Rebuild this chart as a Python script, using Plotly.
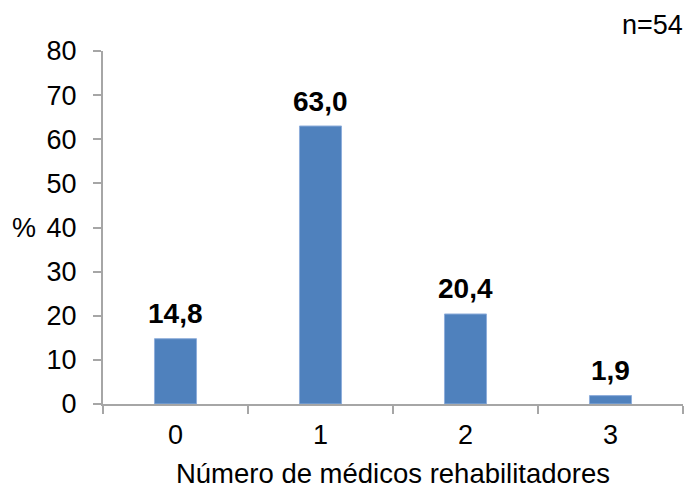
import plotly.graph_objects as go

categories = ["0", "1", "2", "3"]
values = [14.8, 63.0, 20.4, 1.9]
labels = ["14,8", "63,0", "20,4", "1,9"]
y_ticks = [0, 10, 20, 30, 40, 50, 60, 70, 80]

FONT = "Liberation Sans, Arial, sans-serif"
AXIS = "#A6A6A6"

fig = go.Figure(go.Bar(
    x=categories, y=values,
    marker=dict(color="#4F81BD", line=dict(color="#8EAEDB", width=1)),
    cliponaxis=False,
))

annotations = [
    dict(x=c, y=v, text=t, xref="x", yref="y", showarrow=False, yanchor="middle",
         yshift=25, font=dict(family=FONT, size=28, color="black", weight="bold"))
    for c, v, t in zip(categories, values, labels)
]
annotations += [
    dict(text="n=54", xref="paper", yref="paper", x=1.0034, y=1.0737, xanchor="right", yanchor="middle",
         showarrow=False, font=dict(size=27, family=FONT)),
    dict(text="%", xref="paper", yref="paper", x=-0.136, y=0.4986, xanchor="center", yanchor="middle",
         showarrow=False, font=dict(size=27, family=FONT)),
]

fig.update_layout(
    width=690, height=489,
    margin=dict(l=103, r=7, t=51, b=85, pad=0),
    paper_bgcolor="white", plot_bgcolor="white",
    bargap=0.71,
    showlegend=False,
    font=dict(family=FONT, color="black"),
    xaxis=dict(
        type="category", showline=True, linecolor=AXIS, linewidth=2,
        ticks="outside", tickson="boundaries", ticklen=8, tickcolor=AXIS, tickwidth=2,
        tickfont=dict(size=27, family=FONT), showgrid=False, ticklabelstandoff=6, automargin=False,
        title=dict(text="Número de médicos rehabilitadores", font=dict(size=27.5, family=FONT), standoff=16),
    ),
    yaxis=dict(
        range=[0, 80], tickvals=y_ticks, showline=True, linecolor=AXIS, linewidth=2,
        ticks="outside", ticklen=8, tickcolor=AXIS, tickwidth=2, ticklabelstandoff=11,
        tickfont=dict(size=27, family=FONT), showgrid=False, zeroline=False, automargin=False,
    ),
    annotations=annotations,
)

fig.write_html("out.html", config={"displayModeBar": False},
               post_script="document.body.style.margin='0';document.body.style.padding='0';")
